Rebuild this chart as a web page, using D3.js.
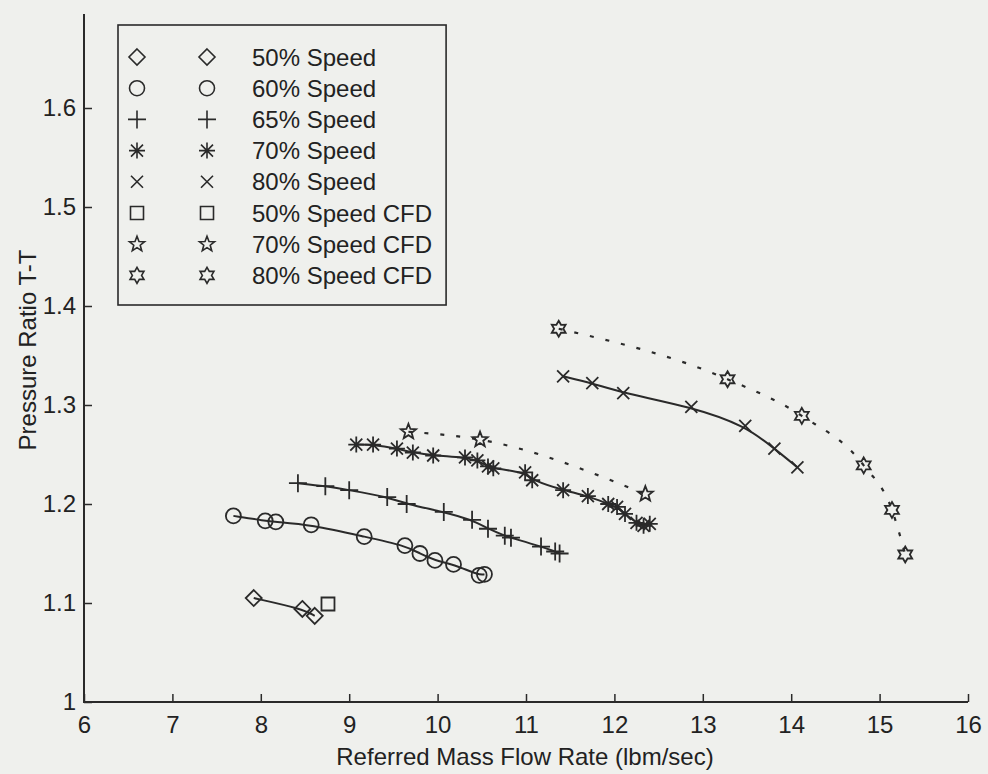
<!DOCTYPE html>
<html>
<head>
<meta charset="utf-8">
<script src="https://cdn.jsdelivr.net/npm/d3@7"></script>
<style>
  body { margin: 0; background: #eff0ed; }
  svg { display: block; font-family: "Liberation Sans", Arial, sans-serif; }
  .axis text { font-size: 24px; fill: #222; }
</style>
</head>
<body>
<div id="chart"></div>
<script>
// values
const speed50X = [7.92, 8.47, 8.61]
const speed50Y = [1.105, 1.094, 1.087]
const speed60X = [7.69, 8.05, 8.17, 8.57, 9.17, 9.63, 9.80, 9.97, 10.18, 10.47, 10.53]
const speed60Y = [1.188, 1.183, 1.182, 1.179, 1.167, 1.158, 1.150, 1.143, 1.139, 1.128, 1.129]
const speed65X = [8.42, 8.73, 9.00, 9.43, 9.65, 10.07, 10.39, 10.57, 10.76, 10.83, 11.17, 11.33, 11.38]
const speed65Y = [1.221, 1.218, 1.214, 1.207, 1.200, 1.192, 1.184, 1.175, 1.168, 1.166, 1.157, 1.152, 1.150]
const speed70X = [9.08, 9.27, 9.54, 9.72, 9.95, 10.31, 10.45, 10.57, 10.63, 10.99, 11.07, 11.42, 11.70, 11.93, 12.03, 12.12, 12.25, 12.33, 12.40]
const speed70Y = [1.260, 1.260, 1.256, 1.252, 1.249, 1.247, 1.244, 1.238, 1.236, 1.232, 1.224, 1.214, 1.208, 1.200, 1.197, 1.190, 1.181, 1.178, 1.180]
const speed80X = [11.42, 11.75, 12.10, 12.87, 13.48, 13.81, 14.07]
const speed80Y = [1.329, 1.322, 1.312, 1.298, 1.279, 1.256, 1.237]
const cfd50X = [8.76]
const cfd50Y = [1.099]
const cfd70X = [9.67, 10.48, 12.35]
const cfd70Y = [1.273, 1.265, 1.210]
const cfd80X = [11.37, 13.28, 14.12, 14.82, 15.14, 15.29]
const cfd80Y = [1.377, 1.326, 1.289, 1.239, 1.194, 1.149]

const xTicks = [6, 7, 8, 9, 10, 11, 12, 13, 14, 15, 16]
const yTicks = [1, 1.1, 1.2, 1.3, 1.4, 1.5, 1.6]
const legendLabels = ['50% Speed', '60% Speed', '65% Speed', '70% Speed', '80% Speed',
  '50% Speed CFD', '70% Speed CFD', '80% Speed CFD']

const width = 988
const height = 774
const ink = '#2a2a2a'
const axisTop = 14

const series = [
  {xs: speed50X, ys: speed50Y, marker: 'diamond', line: 'solid'},
  {xs: speed60X, ys: speed60Y, marker: 'circle', line: 'solid'},
  {xs: speed65X, ys: speed65Y, marker: 'plus', line: 'solid'},
  {xs: speed70X, ys: speed70Y, marker: 'asterisk', line: 'solid'},
  {xs: speed80X, ys: speed80Y, marker: 'cross', line: 'solid'},
  {xs: cfd50X, ys: cfd50Y, marker: 'square', line: 'none'},
  {xs: cfd70X, ys: cfd70Y, marker: 'pentagram', line: 'dotted'},
  {xs: cfd80X, ys: cfd80Y, marker: 'hexagram', line: 'dotted'}
]

const x = d3.scaleLinear().domain([6, 16]).range([84, 968])
const y = d3.scaleLinear().domain([1, 1.6]).range([702, 108])

function starPath (points, outer, inner) {
  let p = []
  for (let i = 0; i < points * 2; i++) {
    const r = i % 2 === 0 ? outer : inner
    const a = Math.PI * i / points - Math.PI / 2
    p.push([r * Math.cos(a), r * Math.sin(a)])
  }
  return 'M' + p.map(q => q[0].toFixed(2) + ',' + q[1].toFixed(2)).join('L') + 'Z'
}

function markerPath (type) {
  switch (type) {
    case 'diamond': return 'M0,-8L8,0L0,8L-8,0Z'
    case 'circle': return 'M7.5,0A7.5,7.5 0 1,1 -7.5,0A7.5,7.5 0 1,1 7.5,0Z'
    case 'plus': return 'M-9,0H9M0,-9V9'
    case 'asterisk': return 'M-8,0H8M0,-8V8M-6,-6L6,6M-6,6L6,-6'
    case 'cross': return 'M-6,-6L6,6M-6,6L6,-6'
    case 'square': return 'M-6.5,-6.5H6.5V6.5H-6.5Z'
    case 'pentagram': return starPath(5, 8, 3.4)
    case 'hexagram': return starPath(6, 8, 4.6)
  }
}

const svg = d3.select('#chart').append('svg')
  .attr('width', width)
  .attr('height', height)

svg.append('rect').attr('width', width).attr('height', height).attr('fill', '#eff0ed')

// axes
const xAxis = svg.append('g')
  .attr('class', 'axis')
  .attr('transform', `translate(0,${y(1)})`)
  .call(d3.axisBottom(x).tickValues(xTicks).tickSize(-8).tickPadding(14).tickFormat(d => d))
xAxis.select('.domain').remove()
xAxis.selectAll('line').attr('stroke', ink).attr('stroke-width', 1.5)
xAxis.selectAll('text').attr('dy', '0.71em')

const yAxis = svg.append('g')
  .attr('class', 'axis')
  .attr('transform', `translate(${x(6)},0)`)
  .call(d3.axisLeft(y).tickValues(yTicks).tickSize(-8).tickPadding(8).tickFormat(d => +d.toFixed(1) + ''))
yAxis.select('.domain').remove()
yAxis.selectAll('line').attr('stroke', ink).attr('stroke-width', 1.5)

svg.append('path')
  .attr('d', `M${x(6)},${axisTop}V${y(1)}H${x(16)}`)
  .attr('fill', 'none')
  .attr('stroke', ink)
  .attr('stroke-width', 2)

svg.append('text')
  .attr('x', 525)
  .attr('y', 765)
  .attr('text-anchor', 'middle')
  .attr('font-size', 24)
  .attr('fill', '#222')
  .text('Referred Mass Flow Rate (lbm/sec)')

svg.append('text')
  .attr('transform', `translate(36,350) rotate(-90)`)
  .attr('text-anchor', 'middle')
  .attr('font-size', 24)
  .attr('fill', '#222')
  .text('Pressure Ratio T-T')

// lines
const solid = d3.line().x(d => x(d[0])).y(d => y(d[1])).curve(d3.curveBasis)
const dotted = d3.line().x(d => x(d[0])).y(d => y(d[1])).curve(d3.curveMonotoneX)

series.forEach(s => {
  if (s.line === 'none') return
  const pts = s.xs.map((v, i) => [v, s.ys[i]])
  svg.append('path')
    .attr('d', s.line === 'solid' ? solid(pts) : dotted(pts))
    .attr('fill', 'none')
    .attr('stroke', ink)
    .attr('stroke-width', s.line === 'solid' ? 2 : 2.2)
    .attr('stroke-dasharray', s.line === 'dotted' ? '4,12' : null)
})

// markers
series.forEach(s => {
  svg.append('g').selectAll('path')
    .data(s.xs.map((v, i) => [v, s.ys[i]]))
    .enter()
    .append('path')
    .attr('transform', d => `translate(${x(d[0])},${y(d[1])})`)
    .attr('d', markerPath(s.marker))
    .attr('fill', 'none')
    .attr('stroke', ink)
    .attr('stroke-width', 1.8)
})

// legend
const legend = svg.append('g')
const rowY = i => 57 + i * 31.2
legendLabels.forEach((label, i) => {
  [137, 207].forEach(cx => {
    legend.append('path')
      .attr('transform', `translate(${cx},${rowY(i)})`)
      .attr('d', markerPath(series[i].marker))
      .attr('fill', 'none')
      .attr('stroke', ink)
      .attr('stroke-width', 1.6)
  })
  legend.append('text')
    .attr('x', 252)
    .attr('y', rowY(i))
    .attr('dy', '0.36em')
    .attr('font-size', 24)
    .attr('fill', '#222')
    .text(label)
})
let maxW = 0
legend.selectAll('text').each(function () { maxW = Math.max(maxW, this.getComputedTextLength()) })
legend.insert('rect', ':first-child')
  .attr('x', 118)
  .attr('y', 25)
  .attr('width', 252 + maxW + 14 - 118)
  .attr('height', 280)
  .attr('fill', 'none')
  .attr('stroke', ink)
  .attr('stroke-width', 1.6)
</script>
</body>
</html>
